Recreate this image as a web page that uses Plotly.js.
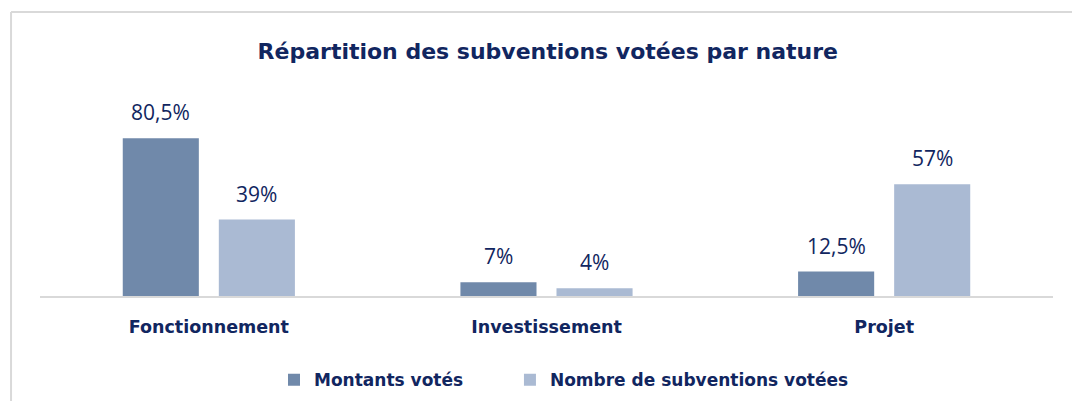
<!DOCTYPE html>
<html><head><meta charset="utf-8">
<script src="https://cdn.plot.ly/plotly-3.0.1.min.js"></script>
<style>html,body{margin:0;padding:0;background:#fff}#chart{width:1072px;height:401px}</style>
</head><body><div id="chart"></div>
<script>
const categories = ["Fonctionnement", "Investissement", "Projet"];
const montants = [80.5, 7, 12.5];
const nombre = [39, 4, 57];
const montantsLabels = ["80,5%", "7%", "12,5%"];
const nombreLabels = ["39%", "4%", "57%"];
const seriesNames = ["Montants votés", "Nombre de subventions votées"];

const navy = "#112660";
const darkBar = "#7089AA";
const lightBar = "#AABAD3";
const boldFam = "'DejaVu Sans', sans-serif";
const numFam = "'Open Sans', 'Noto Sans', sans-serif";

const traces = [
  {type: "bar", name: seriesNames[0], x: categories, y: montants, marker: {color: darkBar}, hoverinfo: "none", legend: "legend"},
  {type: "bar", name: seriesNames[1], x: categories, y: nombre, marker: {color: lightBar}, hoverinfo: "none", legend: "legend2"}
];

const annotations = [];
categories.forEach((c, i) => {
  annotations.push({x: c, y: montants[i], xref: "x", yref: "y", text: montantsLabels[i], showarrow: false,
    yanchor: "bottom", xshift: -48, yshift: 10, font: {family: numFam, size: 21, color: navy}});
  annotations.push({x: c, y: nombre[i], xref: "x", yref: "y", text: nombreLabels[i], showarrow: false,
    yanchor: "bottom", xshift: 48, yshift: 10, font: {family: numFam, size: 21, color: navy}});
});

const legendFont = {family: boldFam, size: 17, color: navy, weight: "bold"};

const layout = {
  width: 1072, height: 401,
  margin: {l: 40, r: 19, t: 100, b: 105},
  paper_bgcolor: "#fff", plot_bgcolor: "#fff",
  title: {text: "<b>Répartition des subventions votées par nature</b>", x: 0.511, xanchor: "center", y: 0.873, yanchor: "middle",
    font: {family: boldFam, size: 22, color: navy}},
  barmode: "group", bargap: 0.431, bargroupgap: 0.208,
  xaxis: {showgrid: false, showline: true, linecolor: "#D9D9D9", linewidth: 2, ticks: "", ticklabelstandoff: 14,
    tickfont: {family: boldFam, size: 17.5, color: navy, weight: "bold"}},
  yaxis: {range: [0, 100], visible: false, showgrid: false, zeroline: false},
  showlegend: true,
  legend: {orientation: "h", xref: "container", yref: "container", x: 0.2556, xanchor: "left", y: 0.052, yanchor: "middle",
    font: legendFont, itemwidth: 30},
  legend2: {orientation: "h", xref: "container", yref: "container", x: 0.4757, xanchor: "left", y: 0.052, yanchor: "middle",
    font: legendFont, itemwidth: 30},
  annotations: annotations,
  shapes: [
    {type: "line", xref: "paper", yref: "paper", x0: -0.0286, x1: 1.05, y0: 1.449, y1: 1.449, line: {color: "#D9D9D9", width: 2}},
    {type: "line", xref: "paper", yref: "paper", x0: -0.0286, x1: -0.0286, y0: 1.449, y1: -0.6, line: {color: "#D9D9D9", width: 2}}
  ]
};
Plotly.newPlot("chart", traces, layout, {displayModeBar: false, staticPlot: true});
</script></body></html>
